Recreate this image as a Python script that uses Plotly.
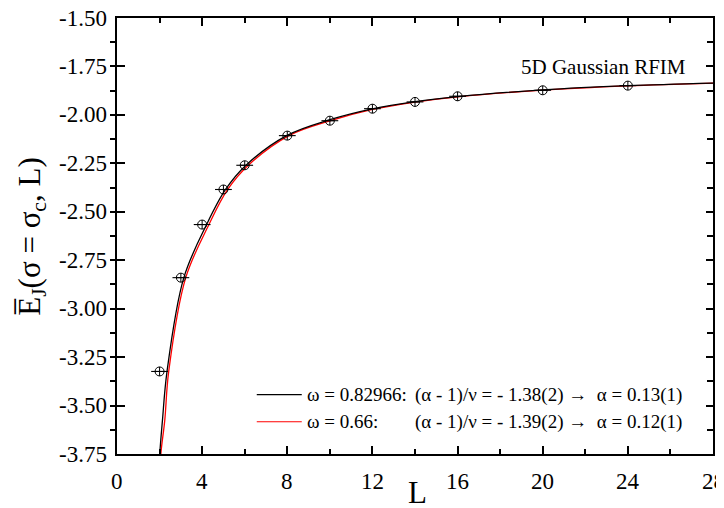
import plotly.graph_objects as go

# ---- data ----
L_data = [2, 3, 4, 5, 6, 8, 10, 12, 14, 16, 20, 24]
E_data = [-3.324, -2.840, -2.566, -2.385, -2.260, -2.107, -2.030, -1.968, -1.933, -1.904, -1.873, -1.849]

# fit curve omega = 0.82966 (black)
L_fit1 = [1.98, 2.01, 2.136, 2.35, 3.14, 4.21, 5.10, 6.06, 7.97, 10, 12, 14, 16, 20, 24, 28]
E_fit1 = [-3.85, -3.75, -3.575, -3.324, -2.840, -2.566, -2.385, -2.260, -2.107, -2.025, -1.969, -1.932, -1.906, -1.871, -1.849, -1.8356]

# fit curve omega = 0.66 (red)
L_fit2 = [2.03, 2.06, 2.245, 2.43, 3.23, 4.32, 5.20, 6.17, 8.08, 10, 12, 14, 16, 20, 24, 28]
E_fit2 = [-3.85, -3.75, -3.575, -3.324, -2.840, -2.566, -2.385, -2.260, -2.107, -2.031, -1.972, -1.934, -1.907, -1.872, -1.850, -1.8356]

x_ticks = [0, 4, 8, 12, 16, 20, 24, 28]
x_ticktext = ["0", "4", "8", "12", "16", "20", "24", "28"]
y_ticks = [-3.75, -3.50, -3.25, -3.00, -2.75, -2.50, -2.25, -2.00, -1.75, -1.50]
y_ticktext = ["-3.75", "-3.50", "-3.25", "-3.00", "-2.75", "-2.50", "-2.25", "-2.00", "-1.75", "-1.50"]

legend_omega = ["ω = 0.82966:", "ω = 0.66:"]
legend_fit = ["(α - 1)/ν = - 1.38(2) →  α = 0.13(1)", "(α - 1)/ν = - 1.39(2) →  α = 0.12(1)"]
legend_colors = ["black", "red"]

FONT = "Liberation Serif"

fig = go.Figure()
fig.add_trace(go.Scatter(x=L_fit2, y=E_fit2, mode="lines", line=dict(color="red", width=1.3, shape="spline"),
                         showlegend=False, hoverinfo="skip"))
fig.add_trace(go.Scatter(x=L_fit1, y=E_fit1, mode="lines", line=dict(color="black", width=1.3, shape="spline"),
                         showlegend=False, hoverinfo="skip"))
fig.add_trace(go.Scatter(x=L_data, y=E_data, mode="markers",
                         marker=dict(symbol="line-ew-open", size=12, color="black",
                                     line=dict(color="black", width=1.1)),
                         showlegend=False))
fig.add_trace(go.Scatter(x=L_data, y=E_data, mode="markers",
                         marker=dict(symbol="circle-cross-open", size=9, color="black",
                                     line=dict(color="black", width=1.0)),
                         showlegend=False))
# mirror axes (top/right)
fig.add_trace(go.Scatter(x=[None], y=[None], xaxis="x2", yaxis="y2", showlegend=False))

axis_common = dict(showline=True, linecolor="black", linewidth=2, showgrid=False, zeroline=False,
                   tickcolor="black", tickwidth=1.5, automargin=False, showticklabels=False)

# page body has an 8px margin: figure is placed at (8, 8)
fig.update_layout(
    template="none",
    width=724, height=508,
    margin=dict(l=109, r=19, t=10, b=62, pad=0, autoexpand=False),
    paper_bgcolor="white", plot_bgcolor="white",
    font=dict(family=FONT, color="black", size=21),
    xaxis=dict(range=[0, 28], tickvals=x_ticks, ticks="inside", ticklen=8,
               minor=dict(dtick=2, ticks="inside", ticklen=5, tickcolor="black", tickwidth=1.5),
               **axis_common),
    yaxis=dict(range=[-3.75, -1.5], tickvals=y_ticks, ticks="inside", ticklen=8,
               minor=dict(dtick=0.125, ticks="outside", ticklen=5, tickcolor="black", tickwidth=1.5),
               **axis_common),
    xaxis2=dict(range=[0, 28], overlaying="x", side="top", anchor="y", tickvals=x_ticks, ticks="inside", ticklen=8,
                minor=dict(dtick=2, ticks="inside", ticklen=5, tickcolor="black", tickwidth=1.5),
                **axis_common),
    yaxis2=dict(range=[-3.75, -1.5], overlaying="y", side="right", anchor="x", tickvals=y_ticks, ticks="inside",
                ticklen=7,
                minor=dict(dtick=0.125, ticks="inside", ticklen=6, tickcolor="black", tickwidth=1.5),
                **axis_common),
)

# tick labels (serif), placed through the axes
for v, t in zip(x_ticks, x_ticktext):
    fig.add_annotation(text=t, xref="x", yref="paper", x=v, y=0, yshift=-27, xanchor="center", yanchor="middle",
                       showarrow=False, font=dict(size=23, family=FONT))
for v, t in zip(y_ticks, y_ticktext):
    fig.add_annotation(text=t, xref="paper", yref="y", x=0, y=v, xshift=-8, xanchor="right", yanchor="middle",
                       showarrow=False, font=dict(size=23, family=FONT))

# axis titles
fig.add_annotation(text="L", xref="paper", yref="paper", x=0.505, y=-0.088, xanchor="center", yanchor="middle",
                   showarrow=False, font=dict(size=31, family=FONT))
fig.add_annotation(text="E\u0305<sub>J</sub>(σ = σ<sub>c</sub>, L)", xref="paper", yref="paper",
                   x=-0.143, y=0.5, xanchor="center", yanchor="middle", textangle=-90,
                   showarrow=False, font=dict(size=31, family=FONT))

fig.add_annotation(text="5D Gaussian RFIM", xref="paper", yref="paper", x=0.958, y=0.888,
                   xanchor="right", yanchor="middle", showarrow=False, font=dict(size=21, family=FONT))

row_y = [0.136, 0.074]
for i in range(2):
    fig.add_shape(type="line", xref="paper", yref="paper", x0=0.2345, x1=0.310, y0=row_y[i], y1=row_y[i],
                  line=dict(color=legend_colors[i], width=1.2))
    fig.add_annotation(text=legend_omega[i], xref="paper", yref="paper", x=0.316, y=row_y[i],
                       xanchor="left", yanchor="middle", showarrow=False, font=dict(size=19, family=FONT))
    fig.add_annotation(text=legend_fit[i], xref="paper", yref="paper", x=0.497, y=row_y[i],
                       xanchor="left", yanchor="middle", showarrow=False, font=dict(size=19, family=FONT))

fig.write_html("out.html")
